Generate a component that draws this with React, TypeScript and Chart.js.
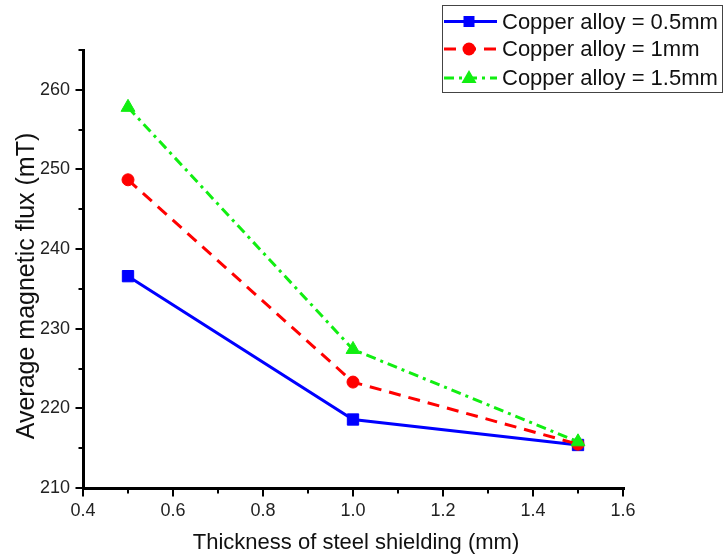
import React, { useEffect, useRef } from 'react';
import { Chart, registerables } from 'chart.js';

Chart.register(...registerables);

const thickness = [0.5, 1.0, 1.5];
const seriesLabels = ['Copper alloy = 0.5mm', 'Copper alloy = 1mm', 'Copper alloy = 1.5mm'];
const flux05 = [236.6, 218.6, 215.4];
const flux1 = [248.7, 223.3, 215.5];
const flux15 = [257.8, 227.4, 215.8];
const xTitle = 'Thickness of steel shielding (mm)';
const yTitle = 'Average magnetic flux (mT)';
const yMajorTicks = [210, 220, 230, 240, 250, 260];
const xMajorTicks = [0.4, 0.6, 0.8, 1.0, 1.2, 1.4, 1.6];
const yMinorTicks = [215, 225, 235, 245, 255, 265];
const xMinorTicks = [0.5, 0.7, 0.9, 1.1, 1.3, 1.5];

const FONT = '"Liberation Sans", Arial, sans-serif';

const toPoints = (ys: number[]) => thickness.map((x, i) => ({ x, y: ys[i] }));

function drawMarker(ctx: CanvasRenderingContext2D, style: string, x: number, y: number, color: string) {
  ctx.save();
  ctx.setLineDash([]);
  ctx.fillStyle = color;
  ctx.beginPath();
  if (style === 'rect') {
    ctx.rect(x - 5.5, y - 5.5, 11, 11);
  } else if (style === 'circle') {
    ctx.arc(x, y, 6.5, 0, Math.PI * 2);
  } else {
    ctx.moveTo(x, y - 8);
    ctx.lineTo(x + 7.5, y + 5);
    ctx.lineTo(x - 7.5, y + 5);
    ctx.closePath();
  }
  ctx.fill();
  ctx.restore();
}

const decor = {
  id: 'decor',
  afterDraw(chart: any) {
    const ctx: CanvasRenderingContext2D = chart.ctx;
    const xs = chart.scales.x;
    const ys = chart.scales.y;
    const area = chart.chartArea;
    const L = Math.round(area.left) + 0.5;
    const B = Math.round(area.bottom) + 0.5;
    ctx.save();
    ctx.strokeStyle = '#000';
    ctx.lineWidth = 3;
    ctx.lineCap = 'square';
    ctx.setLineDash([]);
    ctx.beginPath();
    ctx.moveTo(L, Math.round(ys.getPixelForValue(265)) + 0.5);
    ctx.lineTo(L, B);
    ctx.lineTo(Math.round(xs.getPixelForValue(1.6)) + 0.5, B);
    ctx.stroke();
    ctx.lineCap = 'butt';
    ctx.lineWidth = 2;
    ctx.beginPath();
    yMajorTicks.forEach((v) => {
      const p = Math.round(ys.getPixelForValue(v));
      ctx.moveTo(L - 8, p);
      ctx.lineTo(L, p);
    });
    xMajorTicks.forEach((v) => {
      const p = Math.round(xs.getPixelForValue(v));
      ctx.moveTo(p, B);
      ctx.lineTo(p, B + 8);
    });
    yMinorTicks.forEach((v) => {
      const p = Math.round(ys.getPixelForValue(v));
      ctx.moveTo(L - 5, p);
      ctx.lineTo(L, p);
    });
    xMinorTicks.forEach((v) => {
      const p = Math.round(xs.getPixelForValue(v));
      ctx.moveTo(p, B);
      ctx.lineTo(p, B + 5);
    });
    ctx.stroke();

    // axis titles
    ctx.fillStyle = '#111';
    ctx.font = `22px ${FONT}`;
    ctx.textAlign = 'center';
    ctx.textBaseline = 'alphabetic';
    ctx.fillText(xTitle, (area.left + area.right) / 2 + 3, 549);
    ctx.save();
    ctx.translate(34, 286);
    ctx.rotate(-Math.PI / 2);
    ctx.font = `25px ${FONT}`;
    ctx.fillText(yTitle, 0, 0);
    ctx.restore();

    // legend
    const bx = 442, by = 5, bw = 280, bh = 87;
    ctx.strokeStyle = '#444';
    ctx.lineWidth = 1;
    ctx.strokeRect(bx + 0.5, by + 0.5, bw, bh);
    const rows = [21.5, 49, 78];
    chart.data.datasets.forEach((ds: any, i: number) => {
      const y = rows[i];
      ctx.save();
      ctx.strokeStyle = ds.borderColor;
      ctx.lineWidth = 3;
      ctx.setLineDash(ds.borderDash || []);
      ctx.beginPath();
      ctx.moveTo(444, y);
      ctx.lineTo(497, y);
      ctx.stroke();
      ctx.restore();
      drawMarker(ctx, ds.pointStyle, 469, y, ds.borderColor);
      ctx.fillStyle = '#111';
      ctx.font = `22px ${FONT}`;
      ctx.textAlign = 'left';
      ctx.textBaseline = 'middle';
      ctx.fillText(ds.label, 502, y + 1);
    });
    ctx.restore();
  },
};

export default function App() {
  const ref = useRef<HTMLCanvasElement>(null);
  useEffect(() => {
    document.body.style.margin = '0';
    const canvas = ref.current;
    if (!canvas) return;
    const chart = new Chart(canvas, {
      type: 'line',
      data: {
        datasets: [
          {
            label: seriesLabels[0],
            data: toPoints(flux05),
            borderColor: '#0000ff',
            backgroundColor: '#0000ff',
            borderWidth: 3,
            pointStyle: 'rect',
            pointRadius: 8,
            pointBorderWidth: 1,
            order: 3,
          },
          {
            label: seriesLabels[1],
            data: toPoints(flux1),
            borderColor: '#ff0000',
            backgroundColor: '#ff0000',
            borderWidth: 3,
            borderDash: [12, 8],
            pointStyle: 'circle',
            pointRadius: 6,
            pointBorderWidth: 1,
            order: 2,
          },
          {
            label: seriesLabels[2],
            data: toPoints(flux15),
            borderColor: '#11ee11',
            backgroundColor: '#11ee11',
            borderWidth: 3,
            borderDash: [10, 5, 3, 5],
            pointStyle: 'triangle',
            pointRadius: 8,
            pointBorderWidth: 1,
            order: 1,
          },
        ],
      },
      options: {
        animation: false,
        responsive: false,
        maintainAspectRatio: false,
        layout: { padding: { top: 50, right: 103, left: 0, bottom: 0 } },
        plugins: { legend: { display: false }, tooltip: { enabled: false } },
        scales: {
          x: {
            type: 'linear',
            min: 0.4,
            max: 1.6,
            afterFit: (s: any) => { s.height = 72; },
            grid: { drawOnChartArea: false, drawTicks: true, tickLength: 7, tickColor: 'rgba(0,0,0,0)' },
            border: { display: false },
            ticks: {
              stepSize: 0.2,
              includeBounds: false,
              padding: 5,
              color: '#222',
              font: { family: FONT, size: 18 },
              callback: (v: any) => Number(v).toFixed(1),
            },
          },
          y: {
            type: 'linear',
            min: 210,
            max: 265,
            afterFit: (s: any) => { s.width = 83; },
            grid: { drawOnChartArea: false, drawTicks: true, tickLength: 7, tickColor: 'rgba(0,0,0,0)' },
            border: { display: false },
            ticks: {
              stepSize: 10,
              includeBounds: false,
              padding: 6,
              color: '#222',
              font: { family: FONT, size: 18 },
              callback: (v: any) => String(v),
            },
          },
        },
      },
      plugins: [decor],
    });
    return () => chart.destroy();
  }, []);
  return <canvas ref={ref} width={726} height={560} style={{ display: 'block' }} />;
}
